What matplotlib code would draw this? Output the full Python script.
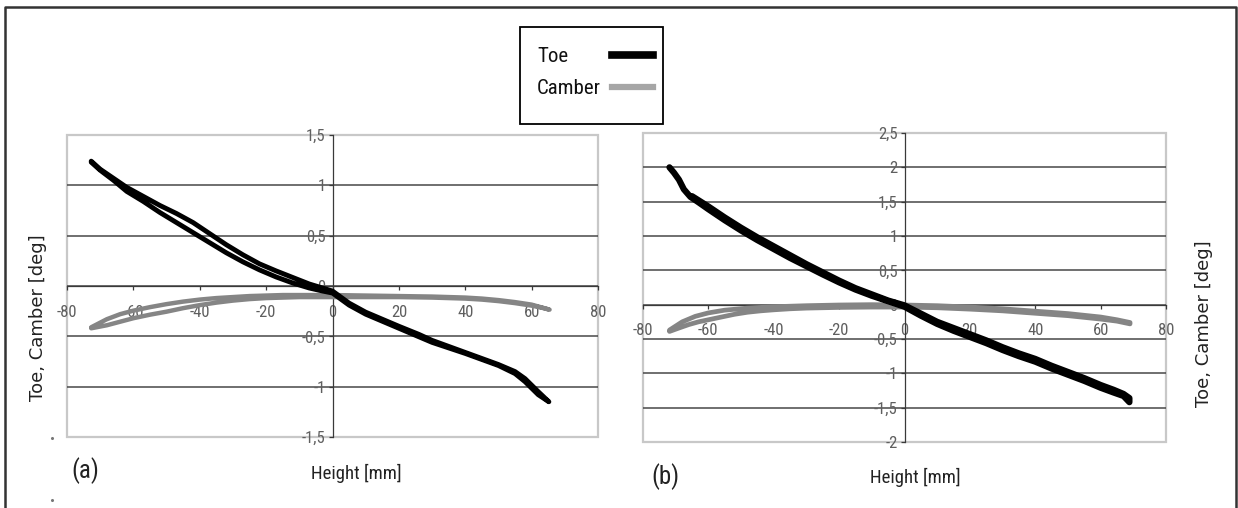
import matplotlib
matplotlib.use("Agg")
import matplotlib.pyplot as plt
from matplotlib import font_manager
from matplotlib.font_manager import FontProperties
from matplotlib.lines import Line2D
from matplotlib.patches import Rectangle

# ---------------- data ----------------
# Panel (a) toe: hysteresis loop (outgoing branch, then return branch)
toe_a_x_out = [-72.7, -70, -66, -62, -57, -52, -47, -42, -37, -32, -27, -22, -17, -12, -7, -3, 0,
               5, 10, 20, 26, 30, 40, 50, 55, 58, 62, 65.2]
toe_a_y_out = [1.24, 1.16, 1.07, 0.98, 0.89, 0.80, 0.72, 0.63, 0.52, 0.41, 0.31, 0.22, 0.15, 0.085,
               0.02, -0.02, -0.05, -0.17, -0.26, -0.40, -0.48, -0.54, -0.66, -0.78, -0.85, -0.92,
               -1.05, -1.15]
toe_a_x_ret = [65.2, 62, 58, 55, 50, 40, 30, 20, 10, 5, 0, -3, -7, -12, -17, -22, -27, -32, -37,
               -42, -47, -52, -57, -62, -66, -70, -72.7]
toe_a_y_ret = [-1.15, -1.08, -0.95, -0.87, -0.79, -0.67, -0.56, -0.42, -0.28, -0.19, -0.07, -0.05,
               -0.02, 0.03, 0.09, 0.16, 0.24, 0.33, 0.43, 0.53, 0.63, 0.73, 0.84, 0.94, 1.05,
               1.15, 1.23]

# Panel (a) camber
cam_a_x_out = [-72.7, -68, -64, -60, -55, -50, -45, -40, -35, -30, -25, -20, -15, -10, -5, 0,
               10, 20, 30, 40, 45, 50, 55, 60, 63, 65.4]
cam_a_y_out = [-0.42, -0.39, -0.355, -0.32, -0.285, -0.255, -0.22, -0.19, -0.165, -0.145, -0.13,
               -0.12, -0.115, -0.11, -0.11, -0.11, -0.11, -0.11, -0.115, -0.125, -0.135, -0.15,
               -0.17, -0.195, -0.215, -0.235]
cam_a_x_ret = [65.4, 60, 55, 50, 45, 40, 30, 20, 10, 0, -5, -10, -15, -20, -25, -30, -35, -40,
               -45, -50, -55, -60, -64, -68, -72.7]
cam_a_y_ret = [-0.235, -0.185, -0.16, -0.14, -0.125, -0.115, -0.105, -0.1, -0.095, -0.09, -0.09,
               -0.09, -0.09, -0.095, -0.1, -0.11, -0.12, -0.135, -0.155, -0.18, -0.21, -0.245,
               -0.28, -0.33, -0.41]

# Panel (b) toe
toe_b_x_out = [-71.9, -70.5, -69, -67.5, -65.5, -63, -60, -55, -50, -45, -40, -35, -30, -25, -20,
               -15, -10, -5, 0, 5, 10, 15, 20, 25, 30, 35, 40, 45, 50, 55, 60, 64, 67, 68.8]
toe_b_y_out = [2.0, 1.92, 1.82, 1.68, 1.57, 1.49, 1.39, 1.23, 1.08, 0.94, 0.81, 0.68, 0.56, 0.44,
               0.325, 0.22, 0.13, 0.05, -0.03, -0.16, -0.28, -0.38, -0.47, -0.56, -0.66, -0.75,
               -0.83, -0.93, -1.02, -1.11, -1.21, -1.28, -1.33, -1.42]
toe_b_x_ret = [68.8, 67, 64, 60, 55, 50, 45, 40, 35, 30, 25, 20, 15, 10, 5, 0, -5, -10, -15, -20,
               -25, -30, -35, -40, -45, -50, -55, -60, -65]
toe_b_y_ret = [-1.36, -1.30, -1.24, -1.17, -1.07, -0.98, -0.89, -0.79, -0.71, -0.62, -0.52, -0.43,
               -0.34, -0.25, -0.13, -0.01, 0.06, 0.15, 0.24, 0.35, 0.47, 0.59, 0.72, 0.85, 0.98,
               1.12, 1.27, 1.43, 1.58]

# Panel (b) camber
cam_b_x_out = [-71.9, -69, -66, -63, -60, -56, -52, -48, -44, -40, -35, -30, -25, -20, -10, 0,
               10, 20, 30, 40, 50, 60, 65, 69]
cam_b_y_out = [-0.39, -0.34, -0.29, -0.25, -0.22, -0.18, -0.14, -0.11, -0.09, -0.075, -0.06,
               -0.05, -0.045, -0.04, -0.035, -0.035, -0.045, -0.065, -0.09, -0.125, -0.16, -0.21,
               -0.24, -0.28]
cam_b_x_ret = [69, 65, 60, 50, 40, 30, 20, 10, 0, -10, -20, -30, -40, -48, -55, -60, -64, -68,
               -71.9]
cam_b_y_ret = [-0.26, -0.22, -0.18, -0.13, -0.095, -0.06, -0.035, -0.015, -0.005, 0.0, -0.005,
               -0.015, -0.03, -0.05, -0.08, -0.12, -0.17, -0.25, -0.37]

# ticks
x_ticks = [-80, -60, -40, -20, 0, 20, 40, 60, 80]
x_ticklabels = ["-80", "-60", "-40", "-20", "0", "20", "40", "60", "80"]
a_yticks = [-1.5, -1.0, -0.5, 0.0, 0.5, 1.0, 1.5]
a_yticklabels = ["-1,5", "-1", "-0,5", "0", "0,5", "1", "1,5"]
b_yticks = [-2.0, -1.5, -1.0, -0.5, 0.0, 0.5, 1.0, 1.5, 2.0, 2.5]
b_yticklabels = ["-2", "-1,5", "-1", "-0,5", "0", "0,5", "1", "1,5", "2", "2,5"]

series_labels = ["Toe", "Camber"]
xlabel = "Height [mm]"
ylabel = "Toe, Camber [deg]"

# ---------------- fonts ----------------
def find_condensed():
    prefs = ["Liberation Sans Narrow", "Roboto Condensed", "Open Sans Condensed",
             "DejaVu Sans", "Noto Sans", "Open Sans", "Roboto"]
    cands = []
    for f in font_manager.fontManager.ttflist:
        st = str(f.stretch).lower()
        nm = f.name
        narrow = (st in ("condensed", "semi-condensed", "extra-condensed", "ultra-condensed")
                  or "narrow" in nm.lower() or "condensed" in nm.lower()
                  or "condensed" in f.fname.lower() or "narrow" in f.fname.lower())
        if not narrow or f.style != "normal":
            continue
        try:
            w = int(f.weight)
        except Exception:
            w = 400 if str(f.weight) in ("normal", "regular", "book") else 700
        if w > 500:
            continue
        rank = prefs.index(nm) if nm in prefs else len(prefs)
        cands.append((rank, f.fname))
    if cands:
        cands.sort()
        return cands[0][1]
    return None


_cond = find_condensed()


def narrow_fp(size):
    if _cond:
        return FontProperties(fname=_cond, size=size)
    return FontProperties(family=["Liberation Sans", "DejaVu Sans"], size=size * 0.9)


TOE_C = "black"
CAM_C = "#858585"
CAM_LEG_C = "#a6a6a6"

W, H = 1238, 508
fig = plt.figure(figsize=(W / 100, H / 100), dpi=100)


def fx(px):
    return px / W


def fy(py):
    return 1 - py / H


def setup(ax, ylim, yticks, yticklabels):
    ax.set_xlim(-80, 80)
    ax.set_ylim(*ylim)
    ax.patch.set_visible(False)
    for s in ["top", "right"]:
        ax.spines[s].set_visible(False)
    for s in ["left", "bottom"]:
        ax.spines[s].set_position(("data", 0))
        ax.spines[s].set_color("#3a3a3a")
        ax.spines[s].set_linewidth(0.9)
    ax.set_xticks(x_ticks)
    ax.set_xticklabels(x_ticklabels)
    ax.set_yticks(yticks)
    ax.set_yticklabels(yticklabels)
    tfp = narrow_fp(12)
    for lab in ax.get_xticklabels() + ax.get_yticklabels():
        lab.set_fontproperties(tfp)
        lab.set_color("#5f5f5f")
    ax.tick_params(axis="y", direction="out", length=3, width=0.9, color="#3a3a3a", pad=2)
    ax.tick_params(axis="x", direction="out", length=3, width=0.9, color="#3a3a3a", pad=10.5)
    ax.yaxis.grid(True, color="#484848", linewidth=1.1)
    ax.set_axisbelow(True)
    gls = ax.get_ygridlines()
    gls[0].set_visible(False)
    gls[-1].set_visible(False)
    ax.add_patch(Rectangle((0, 0), 1, 1, transform=ax.transAxes, fill=False,
                           edgecolor="#c8c8c8", linewidth=1.6, clip_on=False, zorder=0.5))


# panel (a)
axa = fig.add_axes([fx(67), fy(437), fx(598) - fx(67), fy(135) - fy(437)])
setup(axa, (-1.5, 1.5), a_yticks, a_yticklabels)
axa.plot(cam_a_x_out + cam_a_x_ret, cam_a_y_out + cam_a_y_ret, color=CAM_C, lw=3.2, zorder=3,
         solid_joinstyle="round", solid_capstyle="round")
axa.plot(toe_a_x_out + toe_a_x_ret, toe_a_y_out + toe_a_y_ret, color=TOE_C, lw=3.5, zorder=3.1,
         solid_joinstyle="round", solid_capstyle="round")

# panel (b)
axb = fig.add_axes([fx(643), fy(442), fx(1166) - fx(643), fy(133) - fy(442)])
setup(axb, (-2.0, 2.5), b_yticks, b_yticklabels)
axb.plot(cam_b_x_out + cam_b_x_ret, cam_b_y_out + cam_b_y_ret, color=CAM_C, lw=3.4, zorder=3,
         solid_joinstyle="round", solid_capstyle="round")
axb.plot(toe_b_x_out + toe_b_x_ret, toe_b_y_out + toe_b_y_ret, color=TOE_C, lw=4.5, zorder=3.1,
         solid_joinstyle="round", solid_capstyle="round")

# axis titles and panel letters
fig.text(fx(38), fy(318), ylabel, rotation=90, ha="center", va="center",
         fontsize=13, family="DejaVu Sans", color="#222222")
fig.text(fx(1204), fy(324), ylabel, rotation=90, ha="center", va="center",
         fontsize=13, family="DejaVu Sans", color="#222222")
fig.text(fx(356), fy(473), xlabel, ha="center", va="center", fontproperties=narrow_fp(13.5),
         color="#222222")
fig.text(fx(915), fy(477), xlabel, ha="center", va="center", fontproperties=narrow_fp(13.5),
         color="#222222")
fig.text(fx(85), fy(471), "(a)", ha="center", va="center", fontproperties=narrow_fp(18),
         color="#222222")
fig.text(fx(665), fy(477), "(b)", ha="center", va="center", fontproperties=narrow_fp(18),
         color="#222222")

# legend box (text left, sample line right)
fig.add_artist(Rectangle((fx(520), fy(124)), fx(663) - fx(520), fy(27) - fy(124),
                         transform=fig.transFigure, fill=False, edgecolor="black", lw=1.3))
leg_colors = [TOE_C, CAM_LEG_C]
leg_widths = [5.5, 4.5]
leg_rows = [56, 88]
for lab, col, lw_, yy in zip(series_labels, leg_colors, leg_widths, leg_rows):
    fig.text(fx(537), fy(yy), lab, ha="left", va="center", fontproperties=narrow_fp(15),
             color="#111111")
    fig.add_artist(Line2D([fx(612), fx(653)], [fy(yy - 1), fy(yy - 1)],
                          transform=fig.transFigure, color=col, lw=lw_))

# outer frame of the figure (left, top, right)
fig.add_artist(Line2D([fx(5), fx(5), fx(1236), fx(1236)], [0, fy(7), fy(7), 0],
                      transform=fig.transFigure, color="#333333", lw=1.8))
# small stray dots
fig.add_artist(Line2D([fx(52), fx(52)], [fy(438), fy(500)], transform=fig.transFigure,
                      ls="none", marker="o", ms=1.2, color="#777777"))

fig.savefig("out.png", dpi=100)
